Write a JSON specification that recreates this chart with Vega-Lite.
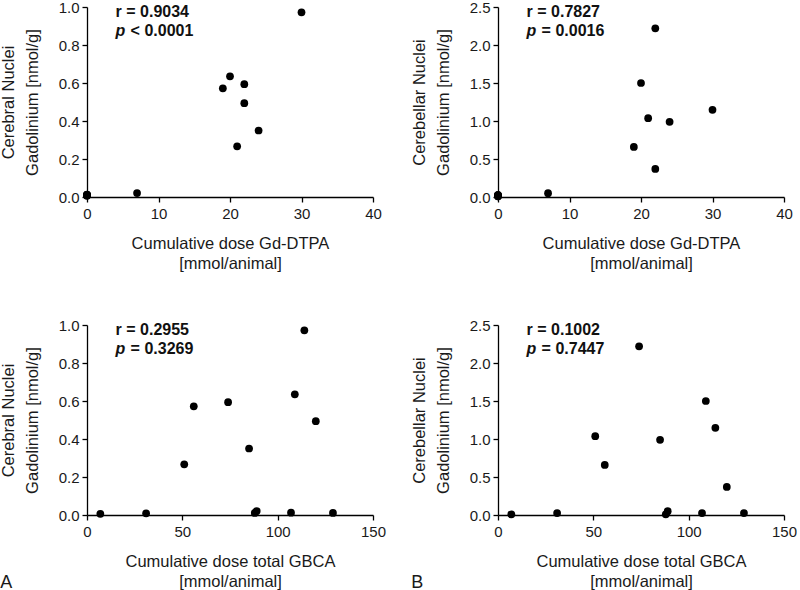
{
  "$schema": "https://vega.github.io/schema/vega-lite/v6.json",
  "padding": {"left": 0, "top": 0, "right": 0, "bottom": 0},
  "background": "white",
  "datasets": {
    "animals": [
      {"gd": 0, "total": 7, "cerebral": 0.006, "cerebellar": 0.009},
      {"gd": 0, "total": 31, "cerebral": 0.009, "cerebellar": 0.026},
      {"gd": 0, "total": 88, "cerebral": 0.011, "cerebellar": 0.009},
      {"gd": 0, "total": 107, "cerebral": 0.012, "cerebellar": 0.026},
      {"gd": 0, "total": 129, "cerebral": 0.011, "cerebellar": 0.026},
      {"gd": 7, "total": 89, "cerebral": 0.021, "cerebellar": 0.05},
      {"gd": 19, "total": 56, "cerebral": 0.572, "cerebellar": 0.658},
      {"gd": 20, "total": 109, "cerebral": 0.635, "cerebellar": 1.5},
      {"gd": 21, "total": 51, "cerebral": 0.267, "cerebellar": 1.037},
      {"gd": 22, "total": 74, "cerebral": 0.594, "cerebellar": 2.22},
      {"gd": 22, "total": 120, "cerebral": 0.494, "cerebellar": 0.37},
      {"gd": 24, "total": 85, "cerebral": 0.35, "cerebellar": 0.99},
      {"gd": 30, "total": 114, "cerebral": 0.972, "cerebellar": 1.147}
    ],
    "stats": [
      {"panel": "gd_cerebral", "r": "r = 0.9034", "p": "< 0.0001"},
      {"panel": "gd_cerebellar", "r": "r = 0.7827", "p": "= 0.0016"},
      {"panel": "total_cerebral", "r": "r = 0.2955", "p": "= 0.3269"},
      {"panel": "total_cerebellar", "r": "r = 0.1002", "p": "= 0.7447"}
    ]
  },
  "columns": 2,
  "spacing": {"row": 128, "column": 125},
  "bounds": "flush",
  "config": {
    "font": "Liberation Sans",
    "view": {"stroke": null},
    "axis": {
      "grid": false,
      "domainColor": "#000000",
      "domainWidth": 1.3,
      "tickColor": "#000000",
      "tickWidth": 1.3,
      "tickSize": 5,
      "labelFont": "Liberation Sans",
      "labelFontSize": 15,
      "labelColor": "#1a1a1a",
      "labelFlush": false,
      "labelOverlap": false,
      "titleFont": "Liberation Sans",
      "titleFontSize": 16.5,
      "titleFontWeight": "normal",
      "titleColor": "#1a1a1a"
    },
    "axisX": {"labelPadding": 4, "titlePadding": 14, "titleLineHeight": 20},
    "axisY": {"labelPadding": 3, "titlePadding": 18, "titleLineHeight": 24},
    "title": {"font": "Liberation Sans", "fontSize": 18, "fontWeight": "normal", "color": "#1a1a1a", "orient": "bottom", "anchor": "start", "frame": "bounds", "baseline": "alphabetic", "offset": -16},
    "text": {"font": "Liberation Sans", "fontSize": 16, "fontWeight": "bold", "color": "#111111", "align": "left", "baseline": "alphabetic"},
    "circle": {"color": "#000000", "opacity": 1, "size": 60}
  },
  "concat": [
    {
      "width": 286, "height": 190,
      "layer": [
        {
          "data": {"name": "animals"},
          "mark": {"type": "circle"},
          "encoding": {
            "x": {"field": "gd", "type": "quantitative", "scale": {"domain": [0, 40], "nice": false}, "axis": {"values": [0, 10, 20, 30, 40], "labelOverlap": false, "title": ["Cumulative dose Gd-DTPA", "[mmol/animal]"]}},
            "y": {"field": "cerebral", "type": "quantitative", "scale": {"domain": [0, 1], "nice": false}, "axis": {"values": [0, 0.2, 0.4, 0.6, 0.8, 1.0], "labelOverlap": false, "format": ".1f", "title": ["Cerebral Nuclei", "Gadolinium [nmol/g]"]}}
          }
        },
        {
          "data": {"name": "stats"},
          "transform": [{"filter": "datum.panel === 'gd_cerebral'"}],
          "mark": {"type": "text"},
          "encoding": {
            "x": {"datum": 4, "type": "quantitative", "axis": {"values": [0, 10, 20, 30, 40], "labelOverlap": false, "title": ["Cumulative dose Gd-DTPA", "[mmol/animal]"]}},
            "y": {"datum": 0.945, "type": "quantitative", "axis": {"values": [0, 0.2, 0.4, 0.6, 0.8, 1.0], "labelOverlap": false, "format": ".1f", "title": ["Cerebral Nuclei", "Gadolinium [nmol/g]"]}},
            "text": {"field": "r"}
          }
        },
        {
          "data": {"name": "stats"},
          "transform": [{"filter": "datum.panel === 'gd_cerebral'"}],
          "mark": {"type": "text", "fontStyle": "italic"},
          "encoding": {
            "x": {"datum": 4, "type": "quantitative", "axis": {"values": [0, 10, 20, 30, 40], "labelOverlap": false, "title": ["Cumulative dose Gd-DTPA", "[mmol/animal]"]}},
            "y": {"datum": 0.845, "type": "quantitative", "axis": {"values": [0, 0.2, 0.4, 0.6, 0.8, 1.0], "labelOverlap": false, "format": ".1f", "title": ["Cerebral Nuclei", "Gadolinium [nmol/g]"]}},
            "text": {"value": "p"}
          }
        },
        {
          "data": {"name": "stats"},
          "transform": [{"filter": "datum.panel === 'gd_cerebral'"}],
          "mark": {"type": "text", "dx": 15},
          "encoding": {
            "x": {"datum": 4, "type": "quantitative", "axis": {"values": [0, 10, 20, 30, 40], "labelOverlap": false, "title": ["Cumulative dose Gd-DTPA", "[mmol/animal]"]}},
            "y": {"datum": 0.845, "type": "quantitative", "axis": {"values": [0, 0.2, 0.4, 0.6, 0.8, 1.0], "labelOverlap": false, "format": ".1f", "title": ["Cerebral Nuclei", "Gadolinium [nmol/g]"]}},
            "text": {"field": "p"}
          }
        }
      ]
    },
    {
      "width": 286, "height": 190,
      "layer": [
        {
          "data": {"name": "animals"},
          "mark": {"type": "circle"},
          "encoding": {
            "x": {"field": "gd", "type": "quantitative", "scale": {"domain": [0, 40], "nice": false}, "axis": {"values": [0, 10, 20, 30, 40], "labelOverlap": false, "title": ["Cumulative dose Gd-DTPA", "[mmol/animal]"]}},
            "y": {"field": "cerebellar", "type": "quantitative", "scale": {"domain": [0, 2.5], "nice": false}, "axis": {"values": [0, 0.5, 1.0, 1.5, 2.0, 2.5], "labelOverlap": false, "format": ".1f", "title": ["Cerebellar Nuclei", "Gadolinium [nmol/g]"]}}
          }
        },
        {
          "data": {"name": "stats"},
          "transform": [{"filter": "datum.panel === 'gd_cerebellar'"}],
          "mark": {"type": "text"},
          "encoding": {
            "x": {"datum": 4, "type": "quantitative", "axis": {"values": [0, 10, 20, 30, 40], "labelOverlap": false, "title": ["Cumulative dose Gd-DTPA", "[mmol/animal]"]}},
            "y": {"datum": 2.3625, "type": "quantitative", "axis": {"values": [0, 0.5, 1.0, 1.5, 2.0, 2.5], "labelOverlap": false, "format": ".1f", "title": ["Cerebellar Nuclei", "Gadolinium [nmol/g]"]}},
            "text": {"field": "r"}
          }
        },
        {
          "data": {"name": "stats"},
          "transform": [{"filter": "datum.panel === 'gd_cerebellar'"}],
          "mark": {"type": "text", "fontStyle": "italic"},
          "encoding": {
            "x": {"datum": 4, "type": "quantitative", "axis": {"values": [0, 10, 20, 30, 40], "labelOverlap": false, "title": ["Cumulative dose Gd-DTPA", "[mmol/animal]"]}},
            "y": {"datum": 2.1125, "type": "quantitative", "axis": {"values": [0, 0.5, 1.0, 1.5, 2.0, 2.5], "labelOverlap": false, "format": ".1f", "title": ["Cerebellar Nuclei", "Gadolinium [nmol/g]"]}},
            "text": {"value": "p"}
          }
        },
        {
          "data": {"name": "stats"},
          "transform": [{"filter": "datum.panel === 'gd_cerebellar'"}],
          "mark": {"type": "text", "dx": 15},
          "encoding": {
            "x": {"datum": 4, "type": "quantitative", "axis": {"values": [0, 10, 20, 30, 40], "labelOverlap": false, "title": ["Cumulative dose Gd-DTPA", "[mmol/animal]"]}},
            "y": {"datum": 2.1125, "type": "quantitative", "axis": {"values": [0, 0.5, 1.0, 1.5, 2.0, 2.5], "labelOverlap": false, "format": ".1f", "title": ["Cerebellar Nuclei", "Gadolinium [nmol/g]"]}},
            "text": {"field": "p"}
          }
        }
      ]
    },
    {
      "width": 286, "height": 190,
      "title": {"text": "A"},
      "layer": [
        {
          "data": {"name": "animals"},
          "mark": {"type": "circle"},
          "encoding": {
            "x": {"field": "total", "type": "quantitative", "scale": {"domain": [0, 150], "nice": false}, "axis": {"values": [0, 50, 100, 150], "labelOverlap": false, "title": ["Cumulative dose total GBCA", "[mmol/animal]"]}},
            "y": {"field": "cerebral", "type": "quantitative", "scale": {"domain": [0, 1], "nice": false}, "axis": {"values": [0, 0.2, 0.4, 0.6, 0.8, 1.0], "labelOverlap": false, "format": ".1f", "title": ["Cerebral Nuclei", "Gadolinium [nmol/g]"]}}
          }
        },
        {
          "data": {"name": "stats"},
          "transform": [{"filter": "datum.panel === 'total_cerebral'"}],
          "mark": {"type": "text"},
          "encoding": {
            "x": {"datum": 15, "type": "quantitative", "axis": {"values": [0, 50, 100, 150], "labelOverlap": false, "title": ["Cumulative dose total GBCA", "[mmol/animal]"]}},
            "y": {"datum": 0.945, "type": "quantitative", "axis": {"values": [0, 0.2, 0.4, 0.6, 0.8, 1.0], "labelOverlap": false, "format": ".1f", "title": ["Cerebral Nuclei", "Gadolinium [nmol/g]"]}},
            "text": {"field": "r"}
          }
        },
        {
          "data": {"name": "stats"},
          "transform": [{"filter": "datum.panel === 'total_cerebral'"}],
          "mark": {"type": "text", "fontStyle": "italic"},
          "encoding": {
            "x": {"datum": 15, "type": "quantitative", "axis": {"values": [0, 50, 100, 150], "labelOverlap": false, "title": ["Cumulative dose total GBCA", "[mmol/animal]"]}},
            "y": {"datum": 0.845, "type": "quantitative", "axis": {"values": [0, 0.2, 0.4, 0.6, 0.8, 1.0], "labelOverlap": false, "format": ".1f", "title": ["Cerebral Nuclei", "Gadolinium [nmol/g]"]}},
            "text": {"value": "p"}
          }
        },
        {
          "data": {"name": "stats"},
          "transform": [{"filter": "datum.panel === 'total_cerebral'"}],
          "mark": {"type": "text", "dx": 15},
          "encoding": {
            "x": {"datum": 15, "type": "quantitative", "axis": {"values": [0, 50, 100, 150], "labelOverlap": false, "title": ["Cumulative dose total GBCA", "[mmol/animal]"]}},
            "y": {"datum": 0.845, "type": "quantitative", "axis": {"values": [0, 0.2, 0.4, 0.6, 0.8, 1.0], "labelOverlap": false, "format": ".1f", "title": ["Cerebral Nuclei", "Gadolinium [nmol/g]"]}},
            "text": {"field": "p"}
          }
        }
      ]
    },
    {
      "width": 286, "height": 190,
      "title": {"text": "B"},
      "layer": [
        {
          "data": {"name": "animals"},
          "mark": {"type": "circle"},
          "encoding": {
            "x": {"field": "total", "type": "quantitative", "scale": {"domain": [0, 150], "nice": false}, "axis": {"values": [0, 50, 100, 150], "labelOverlap": false, "title": ["Cumulative dose total GBCA", "[mmol/animal]"]}},
            "y": {"field": "cerebellar", "type": "quantitative", "scale": {"domain": [0, 2.5], "nice": false}, "axis": {"values": [0, 0.5, 1.0, 1.5, 2.0, 2.5], "labelOverlap": false, "format": ".1f", "title": ["Cerebellar Nuclei", "Gadolinium [nmol/g]"]}}
          }
        },
        {
          "data": {"name": "stats"},
          "transform": [{"filter": "datum.panel === 'total_cerebellar'"}],
          "mark": {"type": "text"},
          "encoding": {
            "x": {"datum": 15, "type": "quantitative", "axis": {"values": [0, 50, 100, 150], "labelOverlap": false, "title": ["Cumulative dose total GBCA", "[mmol/animal]"]}},
            "y": {"datum": 2.3625, "type": "quantitative", "axis": {"values": [0, 0.5, 1.0, 1.5, 2.0, 2.5], "labelOverlap": false, "format": ".1f", "title": ["Cerebellar Nuclei", "Gadolinium [nmol/g]"]}},
            "text": {"field": "r"}
          }
        },
        {
          "data": {"name": "stats"},
          "transform": [{"filter": "datum.panel === 'total_cerebellar'"}],
          "mark": {"type": "text", "fontStyle": "italic"},
          "encoding": {
            "x": {"datum": 15, "type": "quantitative", "axis": {"values": [0, 50, 100, 150], "labelOverlap": false, "title": ["Cumulative dose total GBCA", "[mmol/animal]"]}},
            "y": {"datum": 2.1125, "type": "quantitative", "axis": {"values": [0, 0.5, 1.0, 1.5, 2.0, 2.5], "labelOverlap": false, "format": ".1f", "title": ["Cerebellar Nuclei", "Gadolinium [nmol/g]"]}},
            "text": {"value": "p"}
          }
        },
        {
          "data": {"name": "stats"},
          "transform": [{"filter": "datum.panel === 'total_cerebellar'"}],
          "mark": {"type": "text", "dx": 15},
          "encoding": {
            "x": {"datum": 15, "type": "quantitative", "axis": {"values": [0, 50, 100, 150], "labelOverlap": false, "title": ["Cumulative dose total GBCA", "[mmol/animal]"]}},
            "y": {"datum": 2.1125, "type": "quantitative", "axis": {"values": [0, 0.5, 1.0, 1.5, 2.0, 2.5], "labelOverlap": false, "format": ".1f", "title": ["Cerebellar Nuclei", "Gadolinium [nmol/g]"]}},
            "text": {"field": "p"}
          }
        }
      ]
    }
  ]
}
